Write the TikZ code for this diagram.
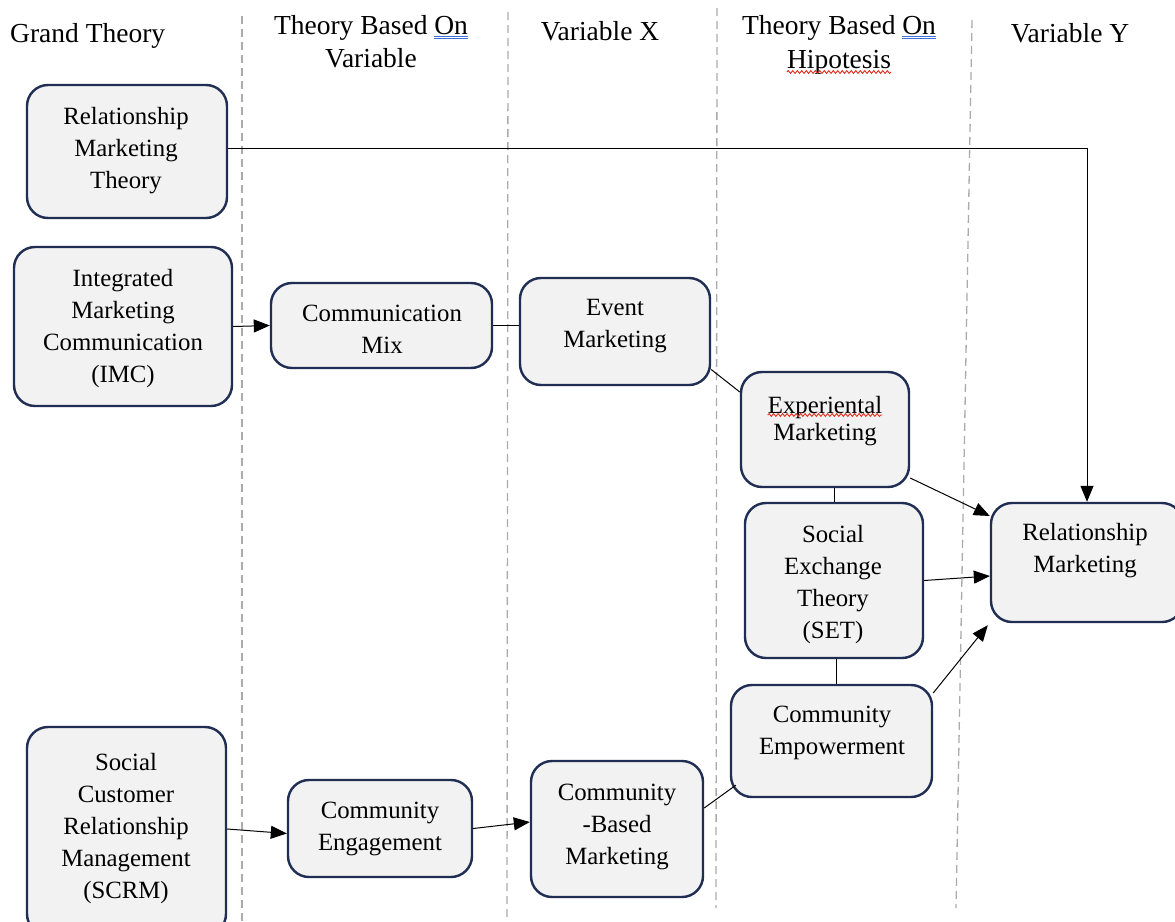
\documentclass[tikz,border=0pt]{standalone}
\usepackage{fontspec}
\setmainfont{Liberation Serif}
\usetikzlibrary{arrows.meta,calc,decorations.pathmorphing}

\definecolor{boxline}{HTML}{1F2E52}
\definecolor{boxfill}{HTML}{F2F2F2}
\definecolor{guide}{HTML}{ABABAB}
\definecolor{spellblue}{HTML}{3F6FD8}
\definecolor{spellred}{HTML}{E0301E}

% double blue underline for a single word
\newcommand\dblunder[1]{\setbox0=\hbox{#1}%
  \rlap{\color{spellblue}\rule[-3pt]{\wd0}{0.8pt}}%
  \rlap{\color{spellblue}\rule[-5pt]{\wd0}{0.8pt}}\box0}

\tikzset{
  box/.style={draw=boxline, line width=2.4pt, fill=boxfill, rounded corners=21pt, inner sep=0pt},
  lbl/.style={align=center, font=\fontsize{24.8}{32}\selectfont, inner sep=0pt},
  head/.style={font=\fontsize{27.5}{33}\selectfont, inner sep=0pt},
  guideline/.style={draw=guide, line width=1.3pt, dash pattern=on 8pt off 5pt},
  link/.style={draw=black, line width=1pt},
  arr/.style={link, -{Triangle[length=16pt,width=13pt]}},
  wavy/.style={draw=spellred, line width=0.9pt, decorate,
    decoration={snake, amplitude=1.4pt, segment length=4.5pt}}
}

\begin{document}
\begin{tikzpicture}[x=1pt,y=-1pt]
\useasboundingbox (0,0) rectangle (1175,921);
\clip (0,0) rectangle (1175,921);
\fill[white] (0,0) rectangle (1175,921);

% column separators
\coordinate (g1t) at (242,16);  \coordinate (g1b) at (242,921);
\coordinate (g2t) at (508,12);  \coordinate (g2b) at (507,921);
\coordinate (g3t) at (717,8);   \coordinate (g3b) at (716,908);
\coordinate (g4t) at (972,20);  \coordinate (g4b) at (956,908);
\draw[guideline] (g1t) -- (g1b);
\draw[guideline] (g2t) -- (g2b);
\draw[guideline] (g3t) -- (g3b);
\draw[guideline] (g4t) -- (g4b);

% column headings
\node[head, anchor=base west] (h1) at (10,42) {Grand Theory};
\node[head, anchor=base] (h2a) at (371,34) {Theory Based \dblunder{On}};
\node[head, anchor=base] (h2b) at (371,67) {Variable};
\node[head, anchor=base] (h3) at (600,40) {Variable X};
\node[head, anchor=base] (h4a) at (839,34) {Theory Based \dblunder{On}};
\node[head, anchor=base] (h4b) at (839,68) {Hipotesis};
\node[head, anchor=base] (h5) at (1070,42) {Variable Y};
\draw[wavy] ($(h4b.base west)+(0,4)$) -- ($(h4b.base east)+(0,4)$);

% boxes
\node[box, minimum width=200pt, minimum height=133pt] (rmt)  at (127,151.5) {};
\node[box, minimum width=218pt, minimum height=159pt] (imc)  at (123,326.5) {};
\node[box, minimum width=221pt, minimum height=85pt]  (cm)   at (381.5,325.5) {};
\node[box, minimum width=190pt, minimum height=107pt] (em)   at (615,331.5) {};
\node[box, minimum width=168pt, minimum height=115pt] (exp)  at (825,429.5) {};
\node[box, minimum width=178pt, minimum height=155pt] (set)  at (834,580.5) {};
\node[box, minimum width=201pt, minimum height=112pt] (cemp) at (831.5,741) {};
\node[box, minimum width=192pt, minimum height=119pt] (rm)   at (1087,562.5) {};
\node[box, minimum width=199pt, minimum height=208pt] (scrm) at (126.5,831) {};
\node[box, minimum width=184pt, minimum height=97pt]  (ceng) at (380,828.5) {};
\node[box, minimum width=172pt, minimum height=136pt] (cbm)  at (617,829) {};

% box texts
\node[lbl] (rmt-t)  at (126,151) {Relationship\\Marketing\\Theory};
\node[lbl] (imc-t)  at (123,329) {Integrated\\Marketing\\Communication\\(IMC)};
\node[lbl] (cm-t)   at (382,329) {Communication\\Mix};
\node[lbl] (em-t)   at (615,326) {Event\\Marketing};
\node[lbl, anchor=base] (exp-t1) at (825,413) {Experiental};
\node[lbl, anchor=base] (exp-t2) at (825,440) {Marketing};
\draw[wavy] ($(exp-t1.base west)+(0,2)$) -- ($(exp-t1.base east)+(0,2)$);
\node[lbl] (set-t)  at (833,585) {Social\\Exchange\\Theory\\(SET)};
\node[lbl] (cemp-t) at (832,733) {Community\\Empowerment};
\node[lbl] (rm-t)   at (1085,551) {Relationship\\Marketing};
\node[lbl] (scrm-t) at (126,829) {Social\\Customer\\Relationship\\Management\\(SCRM)};
\node[lbl] (ceng-t) at (380,829) {Community\\Engagement};
\node[lbl] (cbm-t)  at (617,827) {Community\\-Based\\Marketing};

% connectors
\draw[arr] ($(rmt.east)+(0,-3)$) -| (rm.north);
\draw[arr] (imc.east) -- (cm.west);
\draw[link] (cm.east) -- (cm.east -| em.west);
\draw[link] ($(em.east)+(0,38)$) -- ($(exp.west)+(0,-37.5)$);
\draw[arr] ($(exp.east)+(0,48.5)$) -- ($(rm.west)+(0,-46.5)$);
\draw[link] (exp.south -| set.north) -- (set.north);
\draw[arr] (set.east) -- ($(rm.west)+(0,13.5)$);
\draw[link] ($(set.south)+(2,0)$) -- ($(set.south |- cemp.north)+(2,0)$);
\draw[arr] ($(cemp.east)+(0,-48)$) -- ($(rm.south west)+(-2,2)$);
\draw[arr] ($(scrm.east)+(0,-2)$) -- ($(ceng.west)+(0,5)$);
\draw[arr] (ceng.east) -- ($(cbm.west)+(0,-7)$);
\draw[link] ($(cbm.east)+(0,-21)$) -- ($(cemp.south west)+(6,-13)$);
\end{tikzpicture}
\end{document}
